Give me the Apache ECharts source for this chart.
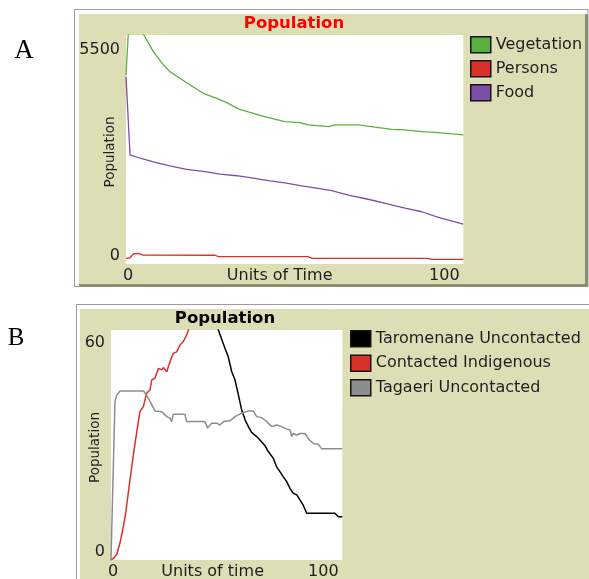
<!DOCTYPE html>
<html>
<head>
<meta charset="utf-8">
<script src="https://cdn.jsdelivr.net/npm/echarts@6/dist/echarts.min.js"></script>
<style>
html,body{margin:0;padding:0;background:#ffffff;}
#c{width:589px;height:579px;}
</style>
</head>
<body>
<div id="c"></div>
<script>
// ---------- Data ----------
// Panel A
const timeTicksA = [0, 100];
const popTicksA = [0, 5500];
const seriesNamesA = ['Vegetation', 'Persons', 'Food'];

const vegTime = [0, 1, 2, 4, 5.3, 8.1, 11.1, 13, 16, 19, 22.9, 26.9, 29.9, 33.3, 37.7, 41.7, 47.1, 51.6, 54, 60, 62, 68.9, 73.8, 78.8, 82.7, 87.7, 92.6, 96.6, 100];
const vegValues = [4540, 6000, 5900, 5650, 5500, 5100, 4780, 4620, 4460, 4300, 4100, 3980, 3875, 3725, 3620, 3525, 3420, 3395, 3340, 3300, 3340, 3340, 3285, 3235, 3220, 3180, 3155, 3125, 3100];

const personsTime = [0, 1.2, 2.2, 3.6, 5.1, 26.4, 27.4, 54, 55.1, 89.6, 90.6, 100];
const personsValues = [137, 150, 240, 257, 215, 210, 175, 175, 137, 137, 113, 113];

const foodTime = [0, 1.2, 4.2, 8.1, 13, 18, 23.9, 27.9, 32.8, 37.7, 42.7, 47.6, 51.6, 55.1, 61, 65.9, 71.8, 77.8, 82.7, 87.7, 92.6, 100];
const foodValues = [4500, 2620, 2540, 2455, 2355, 2275, 2215, 2160, 2120, 2060, 1995, 1940, 1880, 1840, 1760, 1655, 1555, 1440, 1340, 1255, 1120, 955];

// Panel B
const timeTicksB = [0, 100];
const popTicksB = [0, 60];
const seriesNamesB = ['Taromenane Uncontacted', 'Contacted Indigenous', 'Tagaeri Uncontacted'];

const taroTime = [45, 46.4, 49.3, 50.7, 52.2, 53.6, 55.1, 56.5, 58, 59.4, 60.8, 63, 64.4, 66.6, 68, 70.2, 71.6, 73.1, 74.5, 76, 77.4, 78.8, 80.3, 81.7, 83.1, 84.6, 96.8, 98.3, 100];
const taroValues = [63, 60, 55.2, 53, 49.1, 47, 43, 39.1, 36.5, 34.8, 33.3, 32.2, 31.3, 29.8, 28.3, 26.5, 24.3, 23, 21.7, 20.4, 18.7, 17.4, 17, 15.7, 14.3, 12.2, 12.2, 11.3, 11.3];

const contTime = [0, 1, 2.5, 3.9, 5.3, 6.3, 7.8, 8.9, 10.4, 12.5, 14, 15.4, 16.9, 17.6, 19, 20.5, 21.9, 22.6, 24.1, 25.5, 26.9, 28.4, 29.8, 31.3, 32, 32.7, 33.7, 36];
const contValues = [0, 0.4, 1.5, 4.5, 8.5, 12, 19, 24, 30.5, 38.7, 40, 43.5, 44.4, 47, 47.4, 50, 49.6, 50.2, 49.1, 51.7, 53.9, 54.3, 56.1, 57, 57.4, 58.7, 60.3, 64];

const tagTime = [0, 0.3, 1.7, 2.5, 3.9, 14, 15.4, 16.9, 19, 21.9, 24.1, 25.5, 26.2, 26.9, 32, 32.7, 40.6, 41.8, 43.5, 45.7, 47.1, 48.6, 51.4, 53.6, 56.5, 59.4, 61.5, 63, 65.2, 67.3, 69.5, 71.6, 73.8, 75.9, 77.4, 78.1, 78.8, 80.3, 81.7, 83.9, 85.3, 87.5, 89.6, 91.1, 100];
const tagValues = [0, 0.4, 41.3, 43, 44.1, 44.1, 43, 41.3, 38.9, 38.7, 37.4, 37, 36.1, 38, 38, 36.1, 36.1, 34.4, 35.7, 35.7, 35.2, 36.1, 36.3, 37.4, 38.3, 38.9, 38.9, 37.4, 37.1, 36.1, 34.8, 35.2, 34.8, 34.2, 33.9, 32.2, 33, 32.6, 33, 33, 31.6, 30.4, 30.2, 29, 29];

// ---------- Styling ----------
const F = "'DejaVu Sans', Verdana, sans-serif";
const KHAKI = '#dedeb6';
const TXT = '#1e1e1e';
const C_GREEN = 'rgb(89,176,60)';
const C_RED = 'rgb(215,50,41)';
const C_VIOLET = 'rgb(124,80,164)';
const C_GRAY = 'rgb(141,141,141)';
const C_BLACK = '#000000';

function pairs(t, v) { return t.map((x, i) => [x, v[i]]); }

function richTok(padding) {
  return { padding: padding, fontSize: 16, fontFamily: F, color: TXT };
}

function xAxisFor(grid, ticks, name, namePadRight) {
  return {
    gridIndex: grid, type: 'value', min: ticks[0], max: ticks[1], interval: ticks[1] - ticks[0],
    axisLine: { show: false }, axisTick: { show: false }, splitLine: { show: false },
    axisLabel: {
      margin: 4, fontSize: 16, fontFamily: F, color: TXT,
      formatter: v => (v === ticks[0] ? '{l|' + ticks[0] + '}' : '{r|' + ticks[1] + '}'),
      rich: { l: richTok([0, 0, 0, 4]), r: richTok([0, 38, 0, 0]) }
    },
    name: name, nameLocation: 'middle', nameGap: 4, nameMoveOverlap: false,
    nameTextStyle: { fontSize: 16, fontFamily: F, color: TXT, padding: [0, namePadRight, 0, 0] }
  };
}

function yAxisFor(grid, ticks, topPad, botPad) {
  return {
    gridIndex: grid, type: 'value', min: ticks[0], max: ticks[1], interval: ticks[1] - ticks[0],
    axisLine: { show: false }, axisTick: { show: false }, splitLine: { show: false },
    axisLabel: {
      margin: 6, fontSize: 16, fontFamily: F, color: TXT,
      formatter: v => (v === ticks[1] ? '{t|' + ticks[1] + '}' : '{b|' + ticks[0] + '}'),
      rich: { t: richTok([topPad, 0, 0, 0]), b: richTok([0, 0, botPad, 0]) }
    },
    name: 'Population', nameLocation: 'middle', nameGap: 9, nameMoveOverlap: false,
    nameTextStyle: { fontSize: 13.5, fontFamily: F, color: TXT, padding: [0, 5, 0, 0] }
  };
}

function lineSeries(name, idx, t, v, color, width) {
  return {
    name: name, type: 'line', xAxisIndex: idx, yAxisIndex: idx,
    data: pairs(t, v), symbol: 'none', showSymbol: false, clip: true,
    lineStyle: { color: color, width: width }, itemStyle: { color: color },
    emphasis: { disabled: true }, animation: false
  };
}

function legendFor(names, left, top, gap) {
  return {
    data: names, orient: 'vertical', left: left, top: top, padding: 0,
    itemWidth: 20, itemHeight: 16, itemGap: gap, icon: 'rect', selectedMode: false,
    itemStyle: { borderColor: '#141414', borderWidth: 1.5 },
    textStyle: { fontSize: 16, fontFamily: F, color: TXT }
  };
}

const chart = echarts.init(document.getElementById('c'), null, { renderer: 'canvas' });

chart.setOption({
  animation: false,
  backgroundColor: '#ffffff',
  textStyle: { fontFamily: F },
  graphic: {
    elements: [
      // Panel A frame
      { type: 'rect', z: -10, silent: true, shape: { x: 74.5, y: 9.5, width: 513.5, height: 277 }, style: { fill: '#ffffff', stroke: '#9c9c9c', lineWidth: 1 } },
      { type: 'rect', z: -9, silent: true, shape: { x: 79, y: 14, width: 509, height: 273 }, style: { fill: KHAKI } },
      { type: 'rect', z: -8, silent: true, shape: { x: 585, y: 14, width: 3, height: 273 }, style: { fill: '#8e8e70' } },
      { type: 'rect', z: -8, silent: true, shape: { x: 79, y: 284, width: 509, height: 3 }, style: { fill: '#8e8e70' } },
      // Panel B frame
      { type: 'rect', z: -10, silent: true, shape: { x: 76.5, y: 304.5, width: 530, height: 300 }, style: { fill: '#ffffff', stroke: '#9c9c9c', lineWidth: 1 } },
      { type: 'rect', z: -9, silent: true, shape: { x: 80, y: 309, width: 520, height: 300 }, style: { fill: KHAKI } },
      // Panel letters
      { type: 'text', z: 5, silent: true, x: 24, y: 51, style: { text: 'A', fontSize: 27, fontFamily: "'Liberation Serif', 'DejaVu Serif', serif", fill: '#000', align: 'center', verticalAlign: 'middle' } },
      { type: 'text', z: 5, silent: true, x: 16, y: 338, style: { text: 'B', fontSize: 25, fontFamily: "'Liberation Serif', 'DejaVu Serif', serif", fill: '#000', align: 'center', verticalAlign: 'middle' } }
    ]
  },
  title: [
    { text: 'Population', left: 294, top: 15.5, textAlign: 'center', padding: 0,
      textStyle: { color: '#ff0000', fontWeight: 'bold', fontSize: 16.5, fontFamily: F } },
    { text: 'Population', left: 225, top: 310.5, textAlign: 'center', padding: 0,
      textStyle: { color: '#000000', fontWeight: 'bold', fontSize: 16.5, fontFamily: F } }
  ],
  legend: [
    legendFor(seriesNamesA, 470, 36, 6.5),
    legendFor(seriesNamesB, 350, 330, 7)
  ],
  grid: [
    { left: 126, top: 35, width: 337.3, height: 229, show: true, backgroundColor: '#ffffff', borderWidth: 0, containLabel: false, outerBoundsMode: 'none' },
    { left: 111, top: 330, width: 231.3, height: 230, show: true, backgroundColor: '#ffffff', borderWidth: 0, containLabel: false, outerBoundsMode: 'none' }
  ],
  xAxis: [
    xAxisFor(0, timeTicksA, 'Units of Time', 30),
    xAxisFor(1, timeTicksB, 'Units of time', 28)
  ],
  yAxis: [
    yAxisFor(0, popTicksA, 30, 17),
    yAxisFor(1, popTicksB, 26, 17)
  ],
  series: [
    lineSeries(seriesNamesA[0], 0, vegTime, vegValues, C_GREEN, 1.3),
    lineSeries(seriesNamesA[1], 0, personsTime, personsValues, C_RED, 1.3),
    lineSeries(seriesNamesA[2], 0, foodTime, foodValues, C_VIOLET, 1.3),
    lineSeries(seriesNamesB[0], 1, taroTime, taroValues, C_BLACK, 1.5),
    lineSeries(seriesNamesB[1], 1, contTime, contValues, C_RED, 1.5),
    lineSeries(seriesNamesB[2], 1, tagTime, tagValues, C_GRAY, 1.5)
  ]
});
</script>
</body>
</html>
